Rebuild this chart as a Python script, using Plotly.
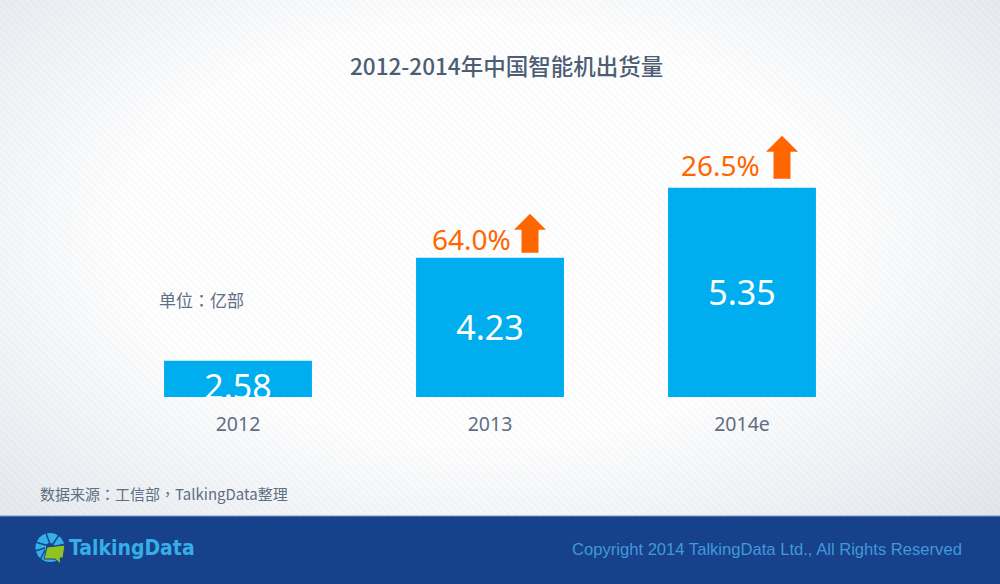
import base64
import plotly.graph_objects as go

years = ['2012', '2013', '2014e']
shipments = [2.58, 4.23, 5.35]
growth_labels = ['', '64.0%', '26.5%']

title_text = '2012-2014年中国智能机出货量'
unit_text = '单位：亿部'
source_text = '数据来源：工信部，TalkingData整理'
copyright_text = 'Copyright 2014 TalkingData Ltd., All Rights Reserved'
logo_text = 'TalkingData'

BLUE = '#00aeef'
ORANGE = '#ff6600'
GREY = '#5f6e82'
NAVY = '#17418b'
CJK = '"Noto Sans CJK SC", "Noto Sans", sans-serif'
CJK_TC = '"Noto Sans CJK TC", "Noto Sans", sans-serif'  # centres the full-width punctuation
LATIN = '"Noto Sans", "Noto Sans CJK SC", sans-serif'

# plot area in page pixels
LEFT, RIGHT, TOP, BOTTOM = 112, 868, 116, 397
W, H = RIGHT - LEFT, BOTTOM - TOP

# page backdrop: soft grey corners and faint diagonal hatching
backdrop = '''<svg xmlns="http://www.w3.org/2000/svg" width="1000" height="584">
<defs>
<radialGradient id="g" cx="48%" cy="40%" r="72%">
<stop offset="0.5" stop-color="#ffffff"/><stop offset="1" stop-color="#e2e6ec"/>
</radialGradient>
<pattern id="h" width="5" height="5" patternUnits="userSpaceOnUse" patternTransform="rotate(-45)">
<rect width="2.5" height="5" fill="#8e99ad" fill-opacity="0.05"/>
</pattern>
</defs>
<rect width="1000" height="584" fill="url(#g)"/>
<rect width="1000" height="584" fill="url(#h)"/>
</svg>'''

# logo mark: pie wedges with a green speech bubble
logo = '''<svg xmlns="http://www.w3.org/2000/svg" width="31" height="31" viewBox="0 0 31 31">
<circle cx="15" cy="14.5" r="14.5" fill="#36aee6"/>
<g stroke="#17418b" stroke-width="1.4" fill="none">
<path d="M16 14 L11 0 M16 14 L24 2 M16 14 L31 11 M14 13 L0 9 M10 15 L0 18 M10 17 L5 27"/>
</g>
<circle cx="15" cy="14" r="4" fill="#17418b"/>
<path d="M12 14 L30 12 L28 25 L25 25 L26 31 L20 26 L9 26Z" fill="#8fc31f" stroke="#17418b" stroke-width="1"/>
</svg>'''


def data_uri(svg):
    return 'data:image/svg+xml;base64,' + base64.b64encode(svg.encode('utf-8')).decode()


def px(x):
    return (x - LEFT) / W


def py(y):
    return (BOTTOM - y) / H


def arrow_path(gap, height):
    # up arrow in pixels above the bar top, y grows upward in pixel size mode
    off = 40
    head = height - 16
    return (f'M {off} {gap + height} L {off + 16} {gap + head} L {off + 8.5} {gap + head} '
            f'L {off + 8.5} {gap} L {off - 8.5} {gap} L {off - 8.5} {gap + head} '
            f'L {off - 16} {gap + head} Z')


baseline = 2
value_labels = [f'{v:.2f}' for v in shipments]
label_shift = [-0.19, -0.06, -0.06]  # the 2012 label sits low and gets cut by the axis
label_y = [(v + baseline) / 2 + s for v, s in zip(shipments, label_shift)]

# per bar placement of the growth label and arrow, in pixels
growth_xshift = [0, -19, -22]
growth_yshift = [0, 19, 23]
arrow_gap = [0, 5, 9]
arrow_height = [0, 39, 43]

fig = go.Figure()

fig.add_trace(go.Bar(
    x=years,
    y=shipments,
    marker=dict(color=BLUE, line=dict(width=0)),
    showlegend=False,
))

fig.add_trace(go.Scatter(
    x=years,
    y=label_y,
    mode='text',
    text=value_labels,
    textposition='middle center',
    textfont=dict(family=LATIN, size=34, color='white'),
    cliponaxis=True,
    showlegend=False,
))

shapes = [
    dict(type='rect', xref='paper', yref='paper', x0=px(0), x1=px(1000), y0=py(584), y1=py(516),
         fillcolor=NAVY, line=dict(width=0), layer='below'),
    dict(type='line', xref='paper', yref='paper', x0=px(0), x1=px(1000), y0=py(516), y1=py(516),
         line=dict(color='#7f95bd', width=1), layer='below'),
]
annotations = []

for i, value in enumerate(shipments):
    if not growth_labels[i]:
        continue
    annotations.append(dict(
        x=i, y=value, xref='x', yref='y', text=growth_labels[i], showarrow=False,
        xanchor='center', yanchor='middle', xshift=growth_xshift[i], yshift=growth_yshift[i],
        font=dict(family=LATIN, size=28, color=ORANGE),
    ))
    shapes.append(dict(
        type='path', xref='x', yref='y', xsizemode='pixel', ysizemode='pixel',
        xanchor=i, yanchor=value,
        path=arrow_path(arrow_gap[i], arrow_height[i]),
        fillcolor=ORANGE, line=dict(width=0),
    ))


def page_text(text, x, y, size, color, family=CJK, anchor='left', weight=None):
    # x, y are page pixels
    return dict(
        text=text, xref='paper', yref='paper', x=px(x), y=py(y),
        showarrow=False, xanchor=anchor, yanchor='middle', borderpad=0, borderwidth=0,
        font=dict(family=family, size=size, color=color, weight=weight),
    )


annotations += [
    page_text(title_text, 507, 65, 22.5, '#4d5e74', anchor='center', weight=500),
    page_text(unit_text, 159, 299, 17, GREY, CJK_TC),
    page_text(source_text, 40, 494, 15, GREY, CJK_TC),
    page_text(copyright_text, 962, 549, 16.6, '#3f9ad6', 'Liberation Sans', 'right'),
    page_text(logo_text, 69, 548, 21, '#36aee6', 'DejaVu Sans Condensed', weight=700),
]

fig.update_layout(
    width=1000,
    height=584,
    margin=dict(l=LEFT, r=1000 - RIGHT, t=TOP, b=584 - BOTTOM),
    paper_bgcolor='white',
    plot_bgcolor='rgba(0,0,0,0)',
    bargap=0.413,
    showlegend=False,
    shapes=shapes,
    annotations=annotations,
    images=[
        dict(source=data_uri(backdrop), xref='paper', yref='paper', x=px(0), y=py(0),
             sizex=1000 / W, sizey=584 / H, xanchor='left', yanchor='top',
             sizing='stretch', layer='below'),
        dict(source=data_uri(logo), xref='paper', yref='paper', x=px(35), y=py(533),
             sizex=31 / W, sizey=31 / H, xanchor='left', yanchor='top',
             sizing='stretch', layer='above'),
    ],
)
fig.update_xaxes(
    type='category', range=[-0.5, 2.5], showgrid=False, zeroline=False, showline=False, ticks='',
    ticklabelstandoff=13,
    tickfont=dict(family=LATIN, size=19.5, color=GREY),
)
fig.update_yaxes(range=[baseline, 6.5], visible=False, showgrid=False, zeroline=False)

fig.write_html('out.html', config=dict(displayModeBar=False), post_script='document.body.style.margin = "0";')
